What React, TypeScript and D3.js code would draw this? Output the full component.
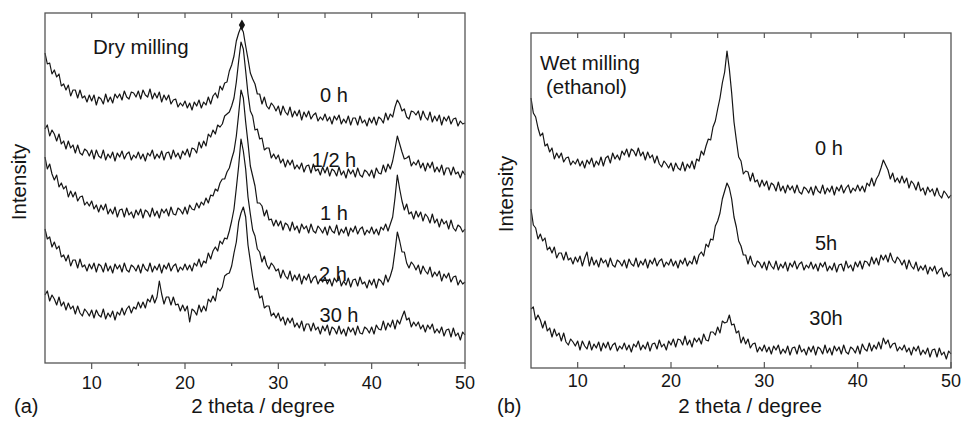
import React from 'react';
import * as d3 from 'd3';

// XRD patterns, intensity (arbitrary units, already stacked),
// sampled every 0.25 degree from 5 to 50 (2 theta)
const dry0h = [
  310, 299, 300, 289, 293, 286, 289, 277, 279, 273, 278, 267, 273, 273, 265, 273, 265, 267, 261, 268,
  262, 268, 258, 266, 264, 259, 269, 261, 266, 260, 269, 265, 269, 263, 272, 266, 264, 271, 270, 266,
  272, 264, 273, 268, 266, 274, 264, 270, 265, 271, 261, 268, 263, 268, 259, 263, 264, 256, 260, 257,
  262, 255, 260, 253, 261, 257, 263, 255, 261, 258, 266, 259, 267, 270, 265, 277, 273, 280, 281, 292,
  298, 307, 322, 330, 336, 331, 317, 304, 290, 284, 279, 269, 269, 259, 266, 257, 254, 260, 257, 252,
  257, 248, 257, 251, 248, 256, 246, 252, 247, 253, 243, 251, 246, 252, 244, 248, 250, 242, 246, 243,
  249, 242, 246, 239, 247, 243, 248, 239, 244, 240, 247, 238, 245, 245, 238, 247, 240, 243, 237, 245,
  240, 246, 238, 246, 244, 240, 250, 243, 249, 246, 256, 263, 259, 252, 254, 246, 244, 252, 251, 248,
  252, 243, 252, 246, 243, 251, 241, 247, 242, 248, 238, 246, 242, 247, 239, 244, 245, 237, 242, 239,
  240,
];
const dryHalf = [
  234, 238, 227, 233, 229, 222, 229, 219, 222, 214, 222, 215, 218, 210, 218, 210, 208, 214, 212, 207,
  213, 204, 213, 207, 205, 213, 203, 209, 205, 211, 202, 210, 206, 212, 204, 209, 211, 203, 208, 205,
  211, 204, 209, 202, 210, 207, 213, 204, 209, 205, 212, 203, 210, 211, 204, 213, 206, 210, 204, 212,
  208, 214, 206, 215, 214, 210, 221, 215, 222, 217, 229, 226, 233, 229, 238, 236, 239, 247, 249, 251,
  257, 265, 281, 302, 321, 314, 292, 269, 252, 247, 233, 234, 224, 225, 213, 215, 215, 205, 209, 204,
  208, 200, 204, 196, 203, 198, 203, 194, 198, 194, 200, 191, 197, 198, 190, 199, 192, 194, 188, 196,
  190, 196, 187, 194, 192, 187, 196, 188, 192, 185, 194, 189, 193, 186, 195, 188, 186, 193, 191, 187,
  193, 185, 195, 190, 189, 198, 191, 199, 194, 202, 214, 227, 219, 211, 204, 205, 207, 197, 201, 198,
  203, 195, 200, 192, 200, 195, 201, 191, 196, 191, 198, 188, 195, 195, 188, 196, 189, 191, 185, 192,
  188,
];
const dry1h = [
  206, 194, 199, 189, 183, 188, 176, 180, 174, 177, 166, 172, 166, 171, 162, 166, 167, 158, 161, 157,
  162, 154, 158, 151, 158, 153, 159, 149, 154, 149, 156, 146, 153, 154, 146, 155, 148, 151, 145, 153,
  148, 154, 145, 153, 151, 146, 155, 147, 152, 145, 154, 150, 154, 147, 156, 149, 148, 155, 153, 149,
  156, 149, 158, 154, 153, 160, 155, 161, 158, 165, 160, 168, 167, 174, 172, 180, 184, 184, 191, 195,
  204, 212, 227, 249, 273, 265, 241, 220, 197, 187, 177, 160, 160, 157, 147, 153, 143, 144, 137, 143,
  137, 142, 133, 140, 138, 132, 141, 133, 137, 130, 139, 134, 137, 130, 139, 132, 130, 137, 134, 130,
  136, 128, 137, 132, 130, 138, 128, 134, 130, 136, 127, 135, 131, 137, 129, 134, 136, 128, 133, 130,
  136, 129, 134, 128, 136, 133, 139, 132, 139, 146, 165, 188, 174, 162, 153, 159, 149, 151, 144, 152,
  146, 151, 142, 149, 146, 140, 149, 140, 144, 136, 144, 139, 142, 134, 143, 135, 132, 138, 136, 131,
  134,
];
const dry2h = [
  134, 124, 126, 116, 121, 114, 117, 106, 108, 102, 108, 97, 103, 103, 95, 104, 96, 98, 92, 99,
  94, 100, 91, 99, 97, 91, 100, 92, 97, 90, 99, 94, 98, 91, 100, 93, 91, 98, 96, 92,
  98, 90, 99, 94, 92, 100, 91, 97, 93, 99, 90, 98, 94, 100, 92, 97, 99, 91, 96, 93,
  99, 93, 98, 92, 100, 97, 104, 96, 102, 100, 110, 104, 112, 116, 112, 122, 119, 125, 124, 132,
  142, 154, 175, 197, 224, 212, 194, 166, 149, 133, 127, 114, 111, 101, 107, 98, 94, 100, 97, 92,
  94, 85, 93, 87, 84, 92, 82, 88, 83, 89, 79, 87, 83, 89, 80, 85, 87, 79, 84, 81,
  86, 79, 84, 77, 85, 81, 87, 77, 82, 78, 85, 76, 83, 84, 77, 86, 79, 81, 75, 83,
  78, 84, 75, 84, 82, 78, 88, 81, 87, 95, 112, 131, 122, 111, 111, 100, 95, 101, 98, 93,
  98, 89, 97, 92, 89, 96, 86, 91, 87, 92, 82, 89, 85, 90, 81, 86, 87, 78, 83, 79,
  81,
];
const dry30h = [
  68, 72, 62, 68, 64, 58, 66, 57, 61, 53, 60, 54, 57, 49, 57, 50, 47, 54, 51, 47,
  53, 45, 53, 48, 46, 54, 44, 50, 46, 52, 43, 51, 48, 55, 48, 54, 57, 50, 56, 54,
  61, 55, 61, 55, 64, 61, 68, 60, 66, 82, 69, 59, 66, 66, 58, 66, 58, 59, 52, 58,
  52, 57, 41, 54, 52, 48, 58, 51, 57, 52, 64, 61, 67, 62, 75, 72, 76, 87, 89, 90,
  97, 110, 121, 141, 150, 156, 146, 118, 102, 86, 73, 75, 65, 67, 55, 57, 57, 47, 50, 45,
  50, 42, 46, 38, 45, 40, 45, 36, 40, 35, 42, 32, 39, 39, 32, 40, 33, 36, 29, 37,
  32, 38, 28, 36, 34, 29, 37, 29, 34, 27, 36, 31, 35, 28, 37, 30, 29, 36, 34, 30,
  36, 29, 38, 34, 33, 42, 33, 40, 36, 43, 34, 43, 39, 46, 52, 43, 45, 36, 41, 37,
  41, 34, 38, 31, 38, 34, 39, 30, 34, 30, 36, 27, 33, 34, 26, 35, 27, 30, 23, 31,
  28,
];

const wet0h = [
  270, 255, 251, 240, 232, 235, 222, 224, 216, 220, 209, 215, 210, 215, 206, 210, 211, 203, 207, 204,
  209, 202, 207, 200, 208, 204, 210, 201, 207, 203, 211, 202, 210, 212, 205, 215, 209, 213, 208, 217,
  213, 219, 211, 219, 217, 212, 220, 212, 216, 208, 216, 210, 213, 205, 212, 204, 201, 207, 204, 200,
  205, 197, 205, 200, 198, 206, 197, 204, 200, 207, 199, 209, 207, 217, 213, 222, 229, 228, 241, 247,
  259, 270, 285, 296, 317, 299, 275, 246, 228, 211, 207, 194, 197, 196, 187, 195, 186, 188, 181, 188,
  182, 187, 178, 185, 183, 177, 186, 177, 182, 175, 183, 178, 182, 175, 183, 176, 174, 181, 179, 175,
  181, 173, 182, 177, 175, 183, 174, 180, 176, 182, 173, 181, 177, 183, 175, 180, 183, 175, 180, 177,
  183, 177, 182, 176, 185, 182, 190, 182, 189, 193, 200, 208, 203, 198, 189, 195, 186, 190, 185, 192,
  185, 190, 180, 187, 184, 178, 186, 177, 180, 173, 181, 176, 179, 172, 180, 173, 170, 177, 174, 170,
  173,
];
const wet5h = [
  159, 143, 140, 129, 134, 127, 130, 118, 121, 115, 121, 110, 115, 115, 108, 116, 108, 110, 104, 111,
  106, 112, 102, 110, 116, 102, 111, 103, 108, 101, 110, 105, 108, 101, 110, 103, 101, 108, 106, 102,
  108, 100, 109, 104, 102, 110, 101, 107, 103, 109, 100, 108, 104, 110, 102, 107, 109, 101, 106, 103,
  109, 102, 107, 100, 108, 104, 110, 102, 107, 104, 112, 104, 113, 116, 112, 124, 121, 129, 128, 142,
  147, 155, 169, 177, 185, 180, 169, 151, 141, 127, 122, 113, 113, 104, 112, 104, 101, 107, 105, 100,
  106, 98, 107, 102, 99, 107, 98, 104, 100, 106, 97, 105, 101, 107, 99, 104, 106, 98, 103, 100,
  106, 99, 104, 97, 105, 101, 106, 97, 102, 98, 105, 96, 103, 104, 97, 107, 100, 103, 97, 106,
  101, 107, 99, 107, 106, 102, 111, 104, 110, 103, 113, 108, 113, 106, 115, 108, 105, 111, 108, 103,
  108, 99, 108, 102, 99, 106, 97, 102, 98, 103, 94, 101, 97, 102, 94, 98, 100, 91, 96, 92,
  94,
];
const wet30h = [
  59, 61, 48, 53, 48, 40, 47, 37, 40, 31, 39, 32, 35, 27, 35, 26, 23, 29, 26, 22,
  27, 18, 27, 22, 19, 27, 18, 24, 20, 26, 17, 25, 20, 26, 18, 23, 25, 17, 22, 19,
  25, 18, 23, 16, 24, 21, 27, 18, 23, 19, 26, 17, 24, 25, 19, 28, 21, 24, 18, 27,
  23, 29, 21, 29, 28, 23, 32, 23, 28, 21, 30, 26, 30, 24, 34, 28, 27, 36, 36, 33,
  41, 35, 47, 45, 46, 53, 43, 44, 35, 37, 25, 31, 24, 29, 20, 24, 25, 16, 21, 17,
  23, 16, 21, 14, 22, 18, 23, 14, 19, 15, 22, 13, 20, 21, 14, 23, 16, 19, 13, 21,
  16, 22, 13, 21, 19, 14, 23, 15, 20, 13, 22, 17, 21, 14, 23, 16, 14, 21, 19, 15,
  22, 14, 24, 19, 17, 25, 17, 23, 19, 26, 19, 30, 24, 28, 20, 24, 25, 17, 21, 18,
  23, 16, 20, 13, 21, 17, 22, 13, 18, 14, 20, 11, 18, 19, 11, 20, 13, 16, 9, 17,
  14,
];

const dryNames = ['0 h', '1/2 h', '1 h', '2 h', '30 h'];
const wetNames = ['0 h', '5h', '30h'];
const majorTicks = [10, 20, 30, 40, 50];
const minorTicks = [15, 25, 35, 45];
const topTicks = [10, 15, 20, 25, 30, 35, 40, 45];
// marked reflection on the top pattern (2 theta, intensity)
const dryMarks = [[26.1, 338]];

// sampling grid of the scans
const theta = d3.range(dry0h.length).map((i) => 5 + i * 0.25);

const FONT = '"Liberation Sans", Arial, Helvetica, sans-serif';
const INK = '#151515';
const FRAME = '#555';

type PanelProps = {
  l: number; t: number; r: number; b: number;
  series: number[][];
  names: string[];
  nameAt: [number, number][];
  title: string[];
  titleAt: [number, number][];
  tag: string;
  tagX: number;
  yLabelX: number;
  yLabelY: number;
  xTitleX: number;
  ticksOut: boolean;
  marks?: number[][];
};

function Panel(p: PanelProps) {
  const x = d3.scaleLinear().domain([5, 50]).range([p.l, p.r]);
  const y = d3.scaleLinear().domain([0, p.b - p.t]).range([p.b, p.t]);
  const line = d3
    .line<number>()
    .x((_, i) => x(theta[i]))
    .y((d) => y(d));
  const dir = p.ticksOut ? 1 : -1;
  const diamond = d3.symbol(d3.symbolDiamond, 34)();

  return (
    <g>
      {p.series.map((s, i) => (
        <path key={i} d={line(s) || ''} fill="none" stroke={INK} strokeWidth={1.2} strokeLinejoin="round" />
      ))}
      {(p.marks || []).map(([tx, v], i) => (
        <path key={'m' + i} d={diamond || ''} transform={`translate(${x(tx)},${y(v)})`} fill={INK} />
      ))}
      <rect x={p.l} y={p.t} width={p.r - p.l} height={p.b - p.t} fill="none" stroke={FRAME} strokeWidth={1.3} />
      {topTicks.map((v) => (
        <line key={'t' + v} x1={x(v)} x2={x(v)} y1={p.t} y2={p.t + 5} stroke={FRAME} strokeWidth={1.2} />
      ))}
      {majorTicks.map((v) => (
        <line key={'M' + v} x1={x(v)} x2={x(v)} y1={p.b} y2={p.b + dir * 6} stroke={FRAME} strokeWidth={1.2} />
      ))}
      {minorTicks.map((v) => (
        <line key={'n' + v} x1={x(v)} x2={x(v)} y1={p.b} y2={p.b + dir * 3} stroke={FRAME} strokeWidth={1.2} />
      ))}
      {majorTicks.map((v) => (
        <text key={'l' + v} x={x(v)} y={p.ticksOut ? p.b + 26 : p.b + 19} textAnchor="middle" fontSize={18} fill={INK}>
          {v}
        </text>
      ))}
      <text x={p.xTitleX} y={413} textAnchor="middle" fontSize={20.5} fill={INK}>
        2 theta / degree
      </text>
      <text x={p.tagX} y={413} fontSize={20} fill={INK}>
        {p.tag}
      </text>
      <text
        transform={`translate(${p.yLabelX},${p.yLabelY}) rotate(-90)`}
        textAnchor="middle"
        fontSize={20.5}
        fill={INK}
      >
        Intensity
      </text>
      {p.title.map((s, i) => (
        <text key={s} x={p.titleAt[i][0]} y={p.titleAt[i][1]} fontSize={20.5} fill={INK}>
          {s}
        </text>
      ))}
      {p.names.map((s, i) => (
        <text key={s} x={p.nameAt[i][0]} y={p.nameAt[i][1]} textAnchor="middle" fontSize={20} fill={INK}>
          {s}
        </text>
      ))}
    </g>
  );
}

export default function App() {
  return (
    <svg
      width={964}
      height={427}
      viewBox="0 0 964 427"
      style={{ position: 'absolute', left: 0, top: 0, background: '#fff', fontFamily: FONT }}
    >
      <Panel
        l={45} t={13} r={465} b={363}
        series={[dry0h, dryHalf, dry1h, dry2h, dry30h]}
        names={dryNames}
        nameAt={[[334, 102], [334, 167], [334, 220], [333, 281], [339, 322]]}
        title={['Dry milling']}
        titleAt={[[93, 54]]}
        tag="(a)"
        tagX={14}
        yLabelX={26}
        yLabelY={182}
        xTitleX={263}
        ticksOut={true}
        marks={dryMarks}
      />
      <Panel
        l={531} t={33} r={951} b={368}
        series={[wet0h, wet5h, wet30h]}
        names={wetNames}
        nameAt={[[829, 155], [826, 250], [826, 325]]}
        title={['Wet milling', '(ethanol)']}
        titleAt={[[540, 70], [546, 94]]}
        tag="(b)"
        tagX={497}
        yLabelX={513}
        yLabelY={194}
        xTitleX={750}
        ticksOut={false}
      />
    </svg>
  );
}
